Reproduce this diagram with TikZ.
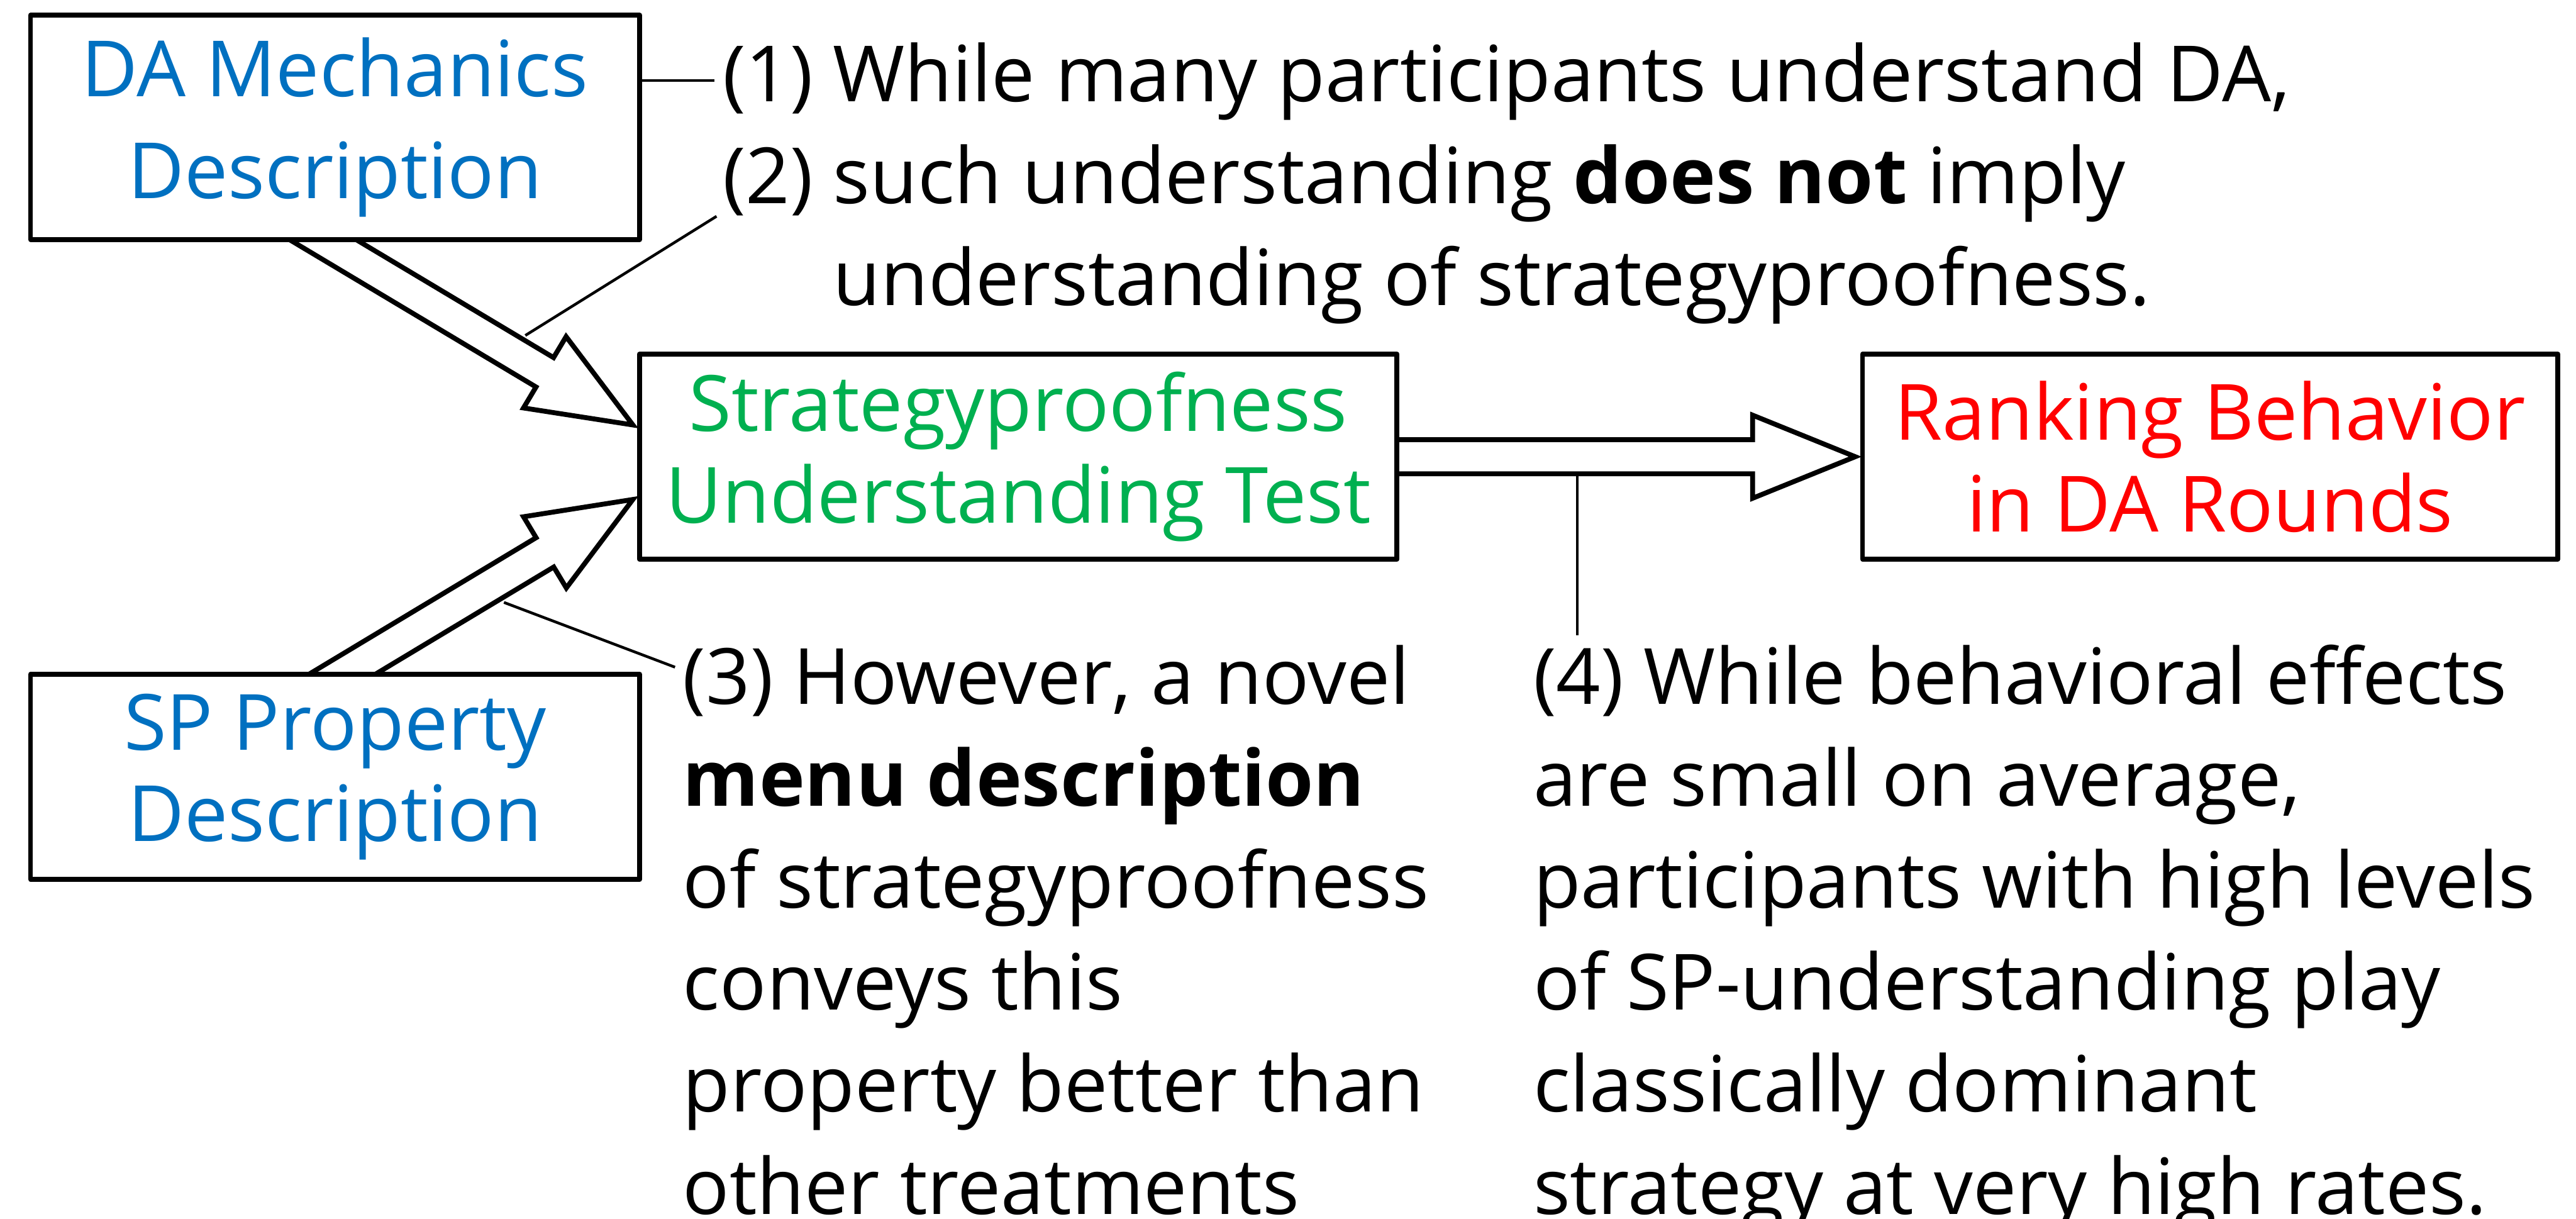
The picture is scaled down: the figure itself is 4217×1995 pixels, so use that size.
\documentclass[tikz,border=0pt]{standalone}
\usepackage{fontspec}
\setmainfont{Open Sans}
\usepackage{xcolor}
\usetikzlibrary{calc,backgrounds}

\definecolor{dablue}{RGB}{0,112,192}
\definecolor{spgreen}{RGB}{0,176,80}
\definecolor{rankred}{RGB}{255,0,0}

% hollow block arrow from #1 (tail) to #2 (tip)
\newcommand{\fatarrow}[2]{%
  \draw[fatarr] ($(#1)!2.8pt!90:(#2)$)
    -- ($(#2)!16.8pt!(#1)!2.8pt!-90:(#1)$)
    -- ($(#2)!16.8pt!(#1)!6.8pt!-90:(#1)$)
    -- (#2)
    -- ($(#2)!16.8pt!(#1)!6.8pt!90:(#1)$)
    -- ($(#2)!16.8pt!(#1)!2.8pt!90:(#1)$)
    -- ($(#1)!2.8pt!-90:(#2)$) -- cycle;}

\begin{document}
\begin{tikzpicture}[
  x=0.1pt,y=-0.1pt,
  box/.style={draw,line width=0.8pt,fill=white,line join=round,align=center,
    inner sep=0pt,minimum width=99.7pt,minimum height=33.6pt,
    font=\fontsize{12.7pt}{15pt}\selectfont},
  note/.style={align=left,inner sep=0pt,anchor=base west,
    font=\fontsize{12.7pt}{16.7pt}\selectfont},
  fatarr/.style={draw,fill=white,line width=0.8pt},
  callout/.style={line width=0.45pt}
]
\useasboundingbox (0,0) rectangle (4217,1995);

\node[box,text=dablue,minimum height=36.7pt,font=\fontsize{12.7pt}{16.6pt}\selectfont]
  (da) at (548.5,208.5) {DA Mechanics\\Description};
\node[box,text=dablue] (sp) at (548.5,1271.5) {SP Property\\Description};
\node[box,text=spgreen,minimum width=124pt] (su) at (1667,747.5)
  {Strategyproofness\\Understanding Test};
\node[box,text=rankred,minimum width=113.8pt] (rb) at (3618,747.5)
  {Ranking Behavior\\in DA Rounds};

% arrows sit behind the boxes
\coordinate (tailA) at ($(da.south)+(-181,-100)$);
\coordinate (tipA) at ($(su.west)+(-7,-52)$);
\coordinate (tailB) at ($(sp.north)+(-148,100)$);
\coordinate (tipB) at ($(su.west)+(-7,70)$);
\coordinate (tailC) at ($(su.east)+(-100,0)$);
\coordinate (tipC) at ($(rb.west)+(-8,0)$);
\begin{pgfonlayer}{background}
\fatarrow{tailA}{tipA}
\fatarrow{tailB}{tipB}
\fatarrow{tailC}{tipC}
\end{pgfonlayer}

% findings (anchored at the baseline of their last line)
\node[note] (n12) at (1181,500) {(1) While many participants understand DA,\\
  (2) such understanding \textbf{does not} imply\\
  \phantom{(2) }understanding of strategyproofness.};
\node[note] (n3) at (1116,1987) {(3) However, a novel\\\textbf{menu description}\\
  of strategyproofness\\conveys this\\property better than\\other treatments};
\node[note] (n4) at (2508,1987) {(4) While behavioral effects\\are small on average,\\
  participants with high levels\\of SP-understanding play\\classically dominant\\
  strategy at very high rates.};

\coordinate (c1) at (1170,132);
\coordinate (c2a) at (860,549);
\coordinate (c2b) at (1173,354);
\coordinate (c3a) at (825,986);
\coordinate (c3b) at (1105,1092);
\coordinate (c4a) at (2582,775);
\coordinate (c4b) at (2582,1040);
\draw[callout] (da.east |- c1) -- (c1);
\draw[callout] (c2a) -- (c2b);
\draw[callout] (c3a) -- (c3b);
\draw[callout] (c4a) -- (c4b);
\end{tikzpicture}
\end{document}
